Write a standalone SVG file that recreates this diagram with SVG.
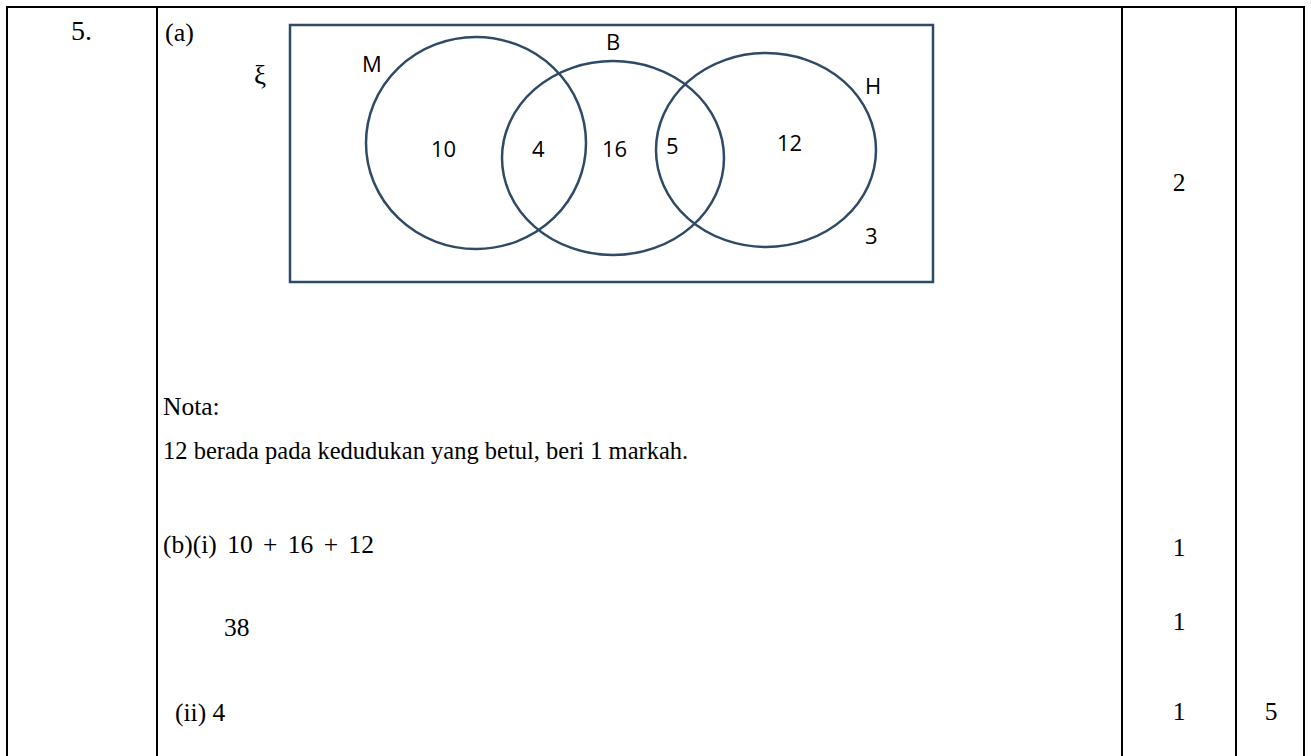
<svg xmlns="http://www.w3.org/2000/svg" width="1311" height="756" viewBox="0 0 1311 756">
<style>
.grid{stroke:#000;stroke-width:2;fill:none}
.t{font-family:"Liberation Serif","Times New Roman",serif;font-size:25.5px;fill:#000}
.v{font-family:"Open Sans","Noto Sans",sans-serif;font-size:22px;fill:#000}
.set{fill:none;stroke:#2E4A66;stroke-width:2.5}
</style>
<rect width="1311" height="756" fill="#fff"/>
<g id="table">
<line class="grid" x1="6" y1="7" x2="1305" y2="7"/>
<line class="grid" x1="7" y1="6" x2="7" y2="756"/>
<line class="grid" x1="157" y1="6" x2="157" y2="756"/>
<line class="grid" x1="1122" y1="6" x2="1122" y2="756"/>
<line class="grid" x1="1236" y1="6" x2="1236" y2="756"/>
<line class="grid" x1="1304" y1="6" x2="1304" y2="756"/>
</g>
<g id="texts">
<text class="t" x="71" y="40" style="font-size:28px">5.</text>
<text class="t" x="165" y="41" style="font-size:26px">(a)</text>
<text class="t" x="254" y="84" style="font-size:27px">ξ</text>
<text class="t" x="163" y="415">Nota:</text>
<text class="t" x="163" y="459" style="font-size:24.5px">12 berada pada kedudukan yang betul, beri 1 markah.</text>
<text class="t" x="163" y="553" word-spacing="4">(b)(i) 10 + 16 + 12</text>
<text class="t" x="224" y="636">38</text>
<text class="t" x="175" y="721">(ii) 4</text>
<text class="t" x="1179" y="191" text-anchor="middle">2</text>
<text class="t" x="1179" y="556" text-anchor="middle">1</text>
<text class="t" x="1179" y="630" text-anchor="middle">1</text>
<text class="t" x="1179" y="720" text-anchor="middle">1</text>
<text class="t" x="1271" y="720" text-anchor="middle">5</text>
</g>
<g id="universal">
<rect class="set" x="290" y="25" width="643" height="257"/>
</g>
<g id="set-M">
<ellipse class="set" cx="476" cy="143" rx="110" ry="106"/>
<text class="v" x="362" y="72">M</text>
</g>
<g id="set-B">
<ellipse class="set" cx="613" cy="158" rx="111" ry="97"/>
<text class="v" x="606" y="50">B</text>
</g>
<g id="set-H">
<ellipse class="set" cx="766" cy="150" rx="110" ry="97"/>
<text class="v" x="865" y="94">H</text>
</g>
<g id="regions">
<text class="v" x="431" y="157">10</text>
<text class="v" x="532" y="157">4</text>
<text class="v" x="602" y="157">16</text>
<text class="v" x="666" y="154">5</text>
<text class="v" x="777" y="151">12</text>
<text class="v" x="865" y="244">3</text>
</g>
<g id="connectors"></g>
</svg>
